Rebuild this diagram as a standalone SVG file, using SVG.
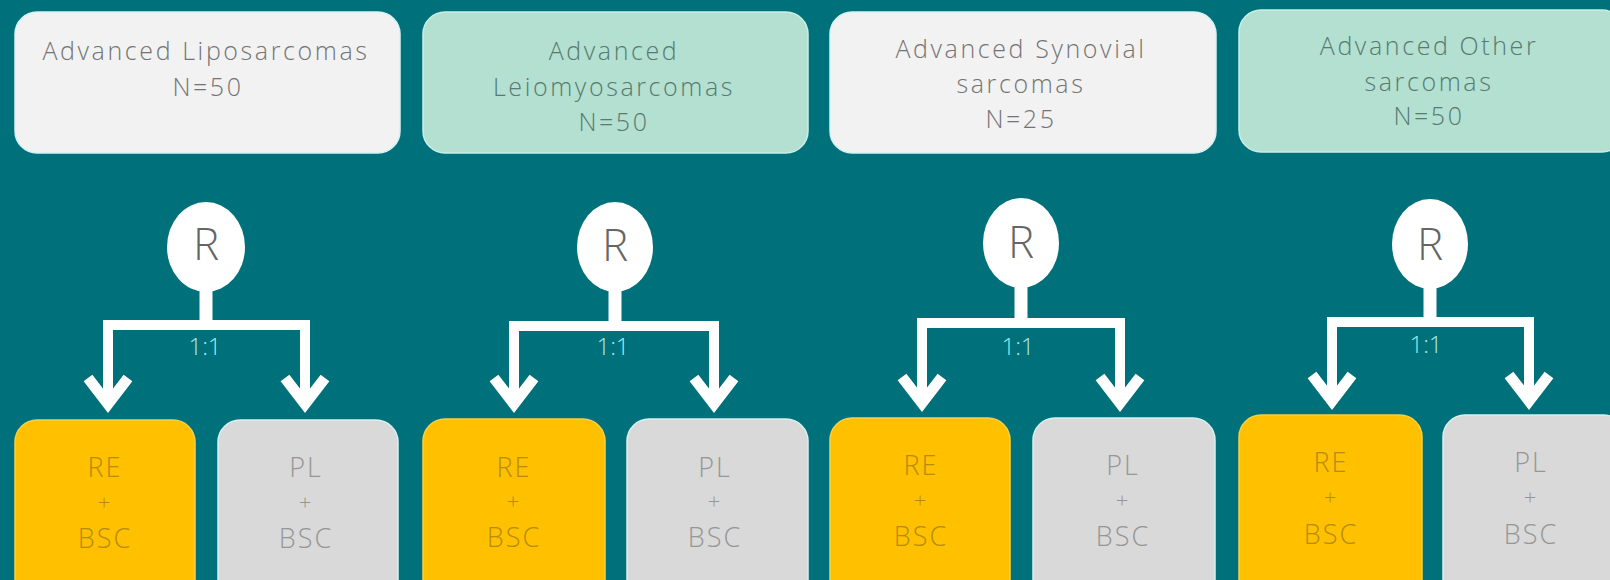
<svg xmlns="http://www.w3.org/2000/svg" width="1610" height="580" viewBox="0 0 1610 580">
<style>
.bg{fill:#00717a}
.box-light{fill:#f2f2f2;stroke:#d4f3f3;stroke-width:1.5}
.box-mint{fill:#b3e0d0;stroke:#c8eee6;stroke-width:1.5}
.box-re{fill:#ffc000;stroke:#f7cf45;stroke-width:1.5}
.box-pl{fill:#d9d9d9;stroke:#d8f0f0;stroke-width:1.5}
text{font-family:"Open Sans","Liberation Sans",sans-serif;font-weight:300;text-anchor:middle}
.t-top{font-size:25px;letter-spacing:2.6px}
.t-light{fill:#747474}
.t-mint{fill:#587a70}
.t-re{fill:#b58c10;font-size:27px;letter-spacing:2px}
.t-pl{fill:#969696;font-size:27px;letter-spacing:2px}
.plus{font-size:22px;letter-spacing:0}
.r-node{fill:#ffffff}
.t-r{fill:#666666;font-size:44px}
.t-ratio{fill:#a6e6ea;font-size:24px}
.conn{fill:none;stroke:#ffffff;stroke-width:10;stroke-linejoin:miter}
.head{fill:none;stroke:#ffffff;stroke-width:11;stroke-linejoin:miter;stroke-miterlimit:10}
.stem{fill:none;stroke:#ffffff;stroke-width:13}
</style>
<rect class="bg" x="0" y="0" width="1610" height="580"/>

<g id="top1"><rect class="box-light" x="15" y="12" width="385" height="141" rx="22"/>
<text class="t-top t-light" x="206" y="60">Advanced Liposarcomas</text>
<text class="t-top t-light" x="208" y="96">N=50</text></g>
<g id="top2"><rect class="box-mint" x="423" y="12" width="385" height="141" rx="22"/>
<text class="t-top t-mint" x="614" y="60">Advanced</text>
<text class="t-top t-mint" x="614" y="96">Leiomyosarcomas</text>
<text class="t-top t-mint" x="614" y="131">N=50</text></g>
<g id="top3"><rect class="box-light" x="830" y="12" width="386" height="141" rx="22"/>
<text class="t-top t-light" x="1021" y="58">Advanced Synovial</text>
<text class="t-top t-light" x="1021" y="93">sarcomas</text>
<text class="t-top t-light" x="1021" y="128">N=25</text></g>
<g id="top4"><rect class="box-mint" x="1239" y="10" width="385" height="142" rx="22"/>
<text class="t-top t-mint" x="1429" y="55">Advanced Other</text>
<text class="t-top t-mint" x="1429" y="91">sarcomas</text>
<text class="t-top t-mint" x="1429" y="125">N=50</text></g>

<g id="connectors">
<path class="stem" d="M206,288 V326"/>
<path class="conn" d="M108,398 V325 H305 V398"/>
<path class="head" d="M88,378 L108,404 L128,378 M285,378 L305,404 L325,378"/>
<path class="stem" d="M615,288 V327"/>
<path class="conn" d="M514,398 V326 H714 V398"/>
<path class="head" d="M494,378 L514,404 L534,378 M694,378 L714,404 L734,378"/>
<path class="stem" d="M1021,284 V324"/>
<path class="conn" d="M922,397 V323 H1120 V397"/>
<path class="head" d="M902,377 L922,403 L942,377 M1100,377 L1120,403 L1140,377"/>
<path class="stem" d="M1430,285 V323"/>
<path class="conn" d="M1332,395 V322 H1529 V395"/>
<path class="head" d="M1312,375 L1332,401 L1352,375 M1509,375 L1529,401 L1549,375"/>
<text class="t-ratio" x="205" y="355">1:1</text>
<text class="t-ratio" x="613" y="355">1:1</text>
<text class="t-ratio" x="1018" y="355">1:1</text>
<text class="t-ratio" x="1426" y="353">1:1</text>
</g>

<g id="r1"><ellipse class="r-node" cx="206" cy="247" rx="39" ry="45"/><text class="t-r" x="206" y="260">R</text></g>
<g id="r2"><ellipse class="r-node" cx="615" cy="247" rx="38" ry="45"/><text class="t-r" x="615" y="261">R</text></g>
<g id="r3"><ellipse class="r-node" cx="1021" cy="243" rx="38" ry="45"/><text class="t-r" x="1021" y="258">R</text></g>
<g id="r4"><ellipse class="r-node" cx="1430" cy="244" rx="38" ry="45"/><text class="t-r" x="1430" y="260">R</text></g>

<g id="re1"><rect class="box-re" x="15" y="420" width="180" height="200" rx="22"/>
<text class="t-re" x="105" y="477">RE</text><text class="t-re plus" x="104" y="510">+</text><text class="t-re" x="105" y="548">BSC</text></g>
<g id="pl1"><rect class="box-pl" x="218" y="420" width="180" height="200" rx="22"/>
<text class="t-pl" x="306" y="477">PL</text><text class="t-pl plus" x="305" y="510">+</text><text class="t-pl" x="306" y="548">BSC</text></g>
<g id="re2"><rect class="box-re" x="423" y="419" width="182" height="200" rx="22"/>
<text class="t-re" x="514" y="477">RE</text><text class="t-re plus" x="513" y="509">+</text><text class="t-re" x="514" y="547">BSC</text></g>
<g id="pl2"><rect class="box-pl" x="627" y="419" width="181" height="200" rx="22"/>
<text class="t-pl" x="715" y="477">PL</text><text class="t-pl plus" x="714" y="509">+</text><text class="t-pl" x="715" y="547">BSC</text></g>
<g id="re3"><rect class="box-re" x="830" y="418" width="180" height="200" rx="22"/>
<text class="t-re" x="921" y="475">RE</text><text class="t-re plus" x="920" y="508">+</text><text class="t-re" x="921" y="546">BSC</text></g>
<g id="pl3"><rect class="box-pl" x="1033" y="418" width="182" height="200" rx="22"/>
<text class="t-pl" x="1123" y="475">PL</text><text class="t-pl plus" x="1122" y="508">+</text><text class="t-pl" x="1123" y="546">BSC</text></g>
<g id="re4"><rect class="box-re" x="1239" y="415" width="183" height="200" rx="22"/>
<text class="t-re" x="1331" y="472">RE</text><text class="t-re plus" x="1330" y="505">+</text><text class="t-re" x="1331" y="544">BSC</text></g>
<g id="pl4"><rect class="box-pl" x="1443" y="415" width="182" height="200" rx="22"/>
<text class="t-pl" x="1531" y="472">PL</text><text class="t-pl plus" x="1530" y="505">+</text><text class="t-pl" x="1531" y="544">BSC</text></g>
</svg>
